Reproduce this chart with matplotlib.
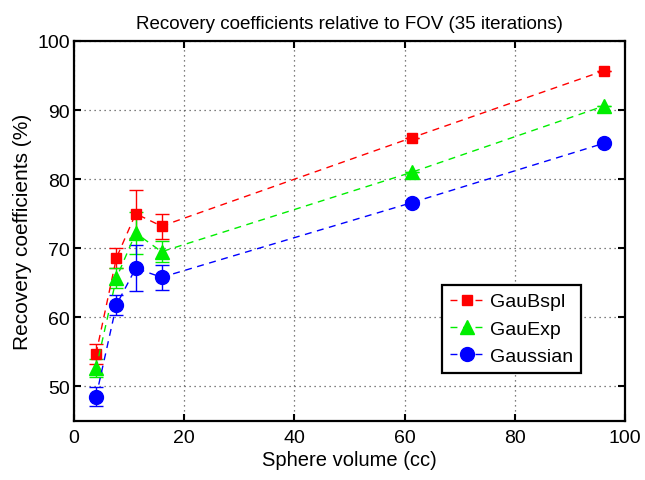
import matplotlib
matplotlib.use('Agg')
from matplotlib import pyplot as plt

plt.rcParams['font.family'] = ['Liberation Sans', 'DejaVu Sans']

# sphere volumes (cc)
volume = [4.0, 7.7, 11.2, 15.9, 61.3, 96.2]

gaubspl = [54.7, 68.6, 75.0, 73.2, 86.0, 95.7]
gaubspl_err = [1.4, 1.4, 3.5, 1.8, 0.0, 0.0]

gauexp = [52.6, 65.7, 72.2, 69.5, 81.0, 90.6]
gauexp_err = [1.3, 1.4, 3.1, 1.5, 0.0, 0.0]

gaussian = [48.5, 61.8, 67.1, 65.8, 76.6, 85.2]
gaussian_err = [1.4, 1.5, 3.3, 1.8, 0.0, 0.0]

series = [
    ('GauBspl', gaubspl, gaubspl_err, '#ff0000', 's', 7.5),
    ('GauExp', gauexp, gauexp_err, '#00ee00', '^', 10),
    ('Gaussian', gaussian, gaussian_err, '#0000ff', 'o', 10),
]

fig = plt.figure(figsize=(6.45, 4.81), dpi=100)
ax = fig.add_axes([0.1147, 0.1227, 0.8543, 0.79])

handles, labels = [], []
for name, y, err, col, mk, ms in series:
    eb = ax.errorbar(volume, y, yerr=err, color=col, ls=(0, (5, 4)), lw=1.0,
                     marker=mk, ms=ms, mec=col, mfc=col, capsize=5,
                     elinewidth=1.0, capthick=1.0)
    handles.append(eb.lines[0])
    labels.append(name)

ax.set_xlim(0, 100)
ax.set_ylim(45, 100)
ax.set_xticks(range(0, 101, 20))
ax.set_yticks(range(50, 101, 10))
ax.grid(True, color='#555555', ls=(0, (1, 3)), lw=0.9)
ax.tick_params(direction='in', top=True, right=True, length=5, width=1.5,
               labelsize=14)
ax.tick_params(axis='x', pad=6)
ax.tick_params(axis='y', pad=3)
for s in ax.spines.values():
    s.set_linewidth(1.6)

ax.set_title('Recovery coefficients relative to FOV (35 iterations)',
             fontsize=13.5, pad=9)
ax.set_xlabel('Sphere volume (cc)', fontsize=14.5, labelpad=3)
ax.set_ylabel('Recovery coefficients (%)', fontsize=15, labelpad=4)

leg = ax.legend(handles, labels, loc='upper left',
                bbox_to_anchor=(0.668, 0.358),
                fontsize=14, fancybox=False, framealpha=1,
                edgecolor='black', handlelength=1.75, borderpad=0.4,
                borderaxespad=0, labelspacing=0.5, handletextpad=0.3)
leg.get_frame().set_linewidth(1.6)

fig.savefig('out.png', dpi=100)
